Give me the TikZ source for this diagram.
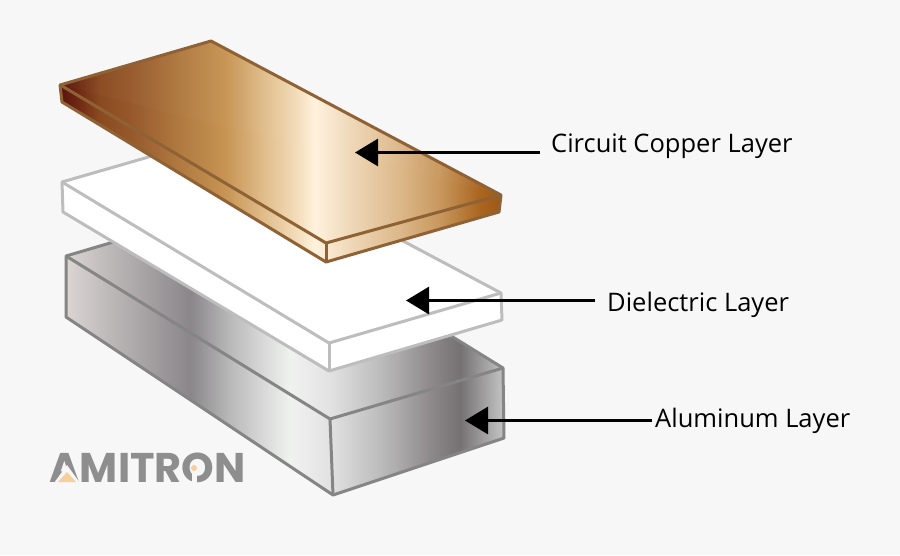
\documentclass[tikz,border=0pt]{standalone}
\usepackage{fontspec}
\setmainfont{Open Sans}
\newfontfamily\logofont{Poppins}[FontFace={b}{n}{Font=Poppins Bold}]
\usetikzlibrary{arrows.meta}
\definecolor{bgc}{HTML}{F7F7F7}
\definecolor{cuedge}{HTML}{8F6236}
\definecolor{dieledge}{HTML}{BDBDBD}
\definecolor{aledge}{HTML}{858585}
\definecolor{logogrey}{HTML}{8E8E8E}
\definecolor{logopeach}{HTML}{F8CE9A}
\definecolor{ca}{HTML}{5A140E}\definecolor{cb}{HTML}{6A2414}\definecolor{cc}{HTML}{8A4A20}
\definecolor{cd}{HTML}{96582B}\definecolor{ce}{HTML}{B07A40}\definecolor{cf}{HTML}{C69453}
\definecolor{cg}{HTML}{DEB986}\definecolor{ch}{HTML}{F5E0BF}\definecolor{ci}{HTML}{FFF2DE}
\definecolor{cj}{HTML}{EFD8B8}\definecolor{ck}{HTML}{DCB88A}\definecolor{cl}{HTML}{C8975D}
\definecolor{cm}{HTML}{AA651F}\definecolor{cn}{HTML}{9E5A14}
\definecolor{aa}{HTML}{DBD6D4}\definecolor{ab}{HTML}{BDB8B8}\definecolor{ac}{HTML}{8A868A}
\definecolor{ad}{HTML}{B9B9B9}\definecolor{ae}{HTML}{F0F2F0}\definecolor{af}{HTML}{E2E2E2}
\definecolor{ag}{HTML}{BDBCBC}\definecolor{ah}{HTML}{858082}\definecolor{ai}{HTML}{767274}
\definecolor{aj}{HTML}{C5C5C5}
\pgfdeclarehorizontalshading{copperfill}{100bp}{
 color(0bp)=(ca);color(25bp)=(ca);color(26.7bp)=(cb);color(29.5bp)=(cc);color(32.9bp)=(cd);
 color(38.6bp)=(ce);color(43.7bp)=(cf);color(47.7bp)=(cg);color(52.2bp)=(ch);color(53.9bp)=(ci);
 color(57.9bp)=(cj);color(63.5bp)=(ck);color(68.1bp)=(cl);color(72.6bp)=(cm);color(75bp)=(cn);color(100bp)=(cn)}
\pgfdeclarehorizontalshading{alufill}{100bp}{
 color(0bp)=(aa);color(25bp)=(aa);color(30bp)=(ab);color(39.2bp)=(ac);color(43.7bp)=(ad);
 color(50.6bp)=(ae);color(55.1bp)=(af);color(60.8bp)=(ag);color(67.7bp)=(ah);color(70bp)=(ai);
 color(75bp)=(aj);color(100bp)=(aj)}
\tikzset{
 culine/.style={draw=cuedge,line width=3pt,line join=round},
 dieline/.style={draw=dieledge,line width=3pt,line join=round},
 alline/.style={draw=aledge,line width=3pt,line join=round},
 lbl/.style={inner sep=0pt,anchor=west,font=\fontsize{25.5}{30}\selectfont,text=black},
 pointer/.style={draw=black,line width=3pt,-{Triangle[length=23pt,width=27pt]}},
}
\begin{document}
\begin{tikzpicture}[x=1pt,y=-1pt]
\useasboundingbox (0,0) rectangle (900,555);
\fill[bgc] (0,0) rectangle (900,555);
% aluminum
\begin{scope}
 \clip (66,256) -- (239,205) -- (503,368) -- (504,438) -- (333,495) -- (66,317) -- cycle;
 \shade[shading=alufill] (66,200) rectangle (504,500);
\end{scope}
\draw[alline] (239,205) -- (66,256) -- (66,317) -- (333,495) -- (504,438) -- (503,368) -- (239,205);
\draw[alline] (66,256) -- (330,419) -- (503,368);
\draw[alline] (330,419) -- (333,495);
% dielectric
\fill[white] (62,182) -- (211,139) -- (501,293) -- (502,320) -- (329,371) -- (63,212) -- cycle;
\draw[dieline] (211,139) -- (62,182) -- (63,212) -- (329,371) -- (502,320) -- (501,293) -- cycle;
\draw[dieline] (62,182) -- (329,343) -- (501,293);
\draw[dieline] (329,343) -- (329,371);
% copper
\begin{scope}
 \clip (60,85) -- (211,41) -- (501,195) -- (499,212) -- (326,262) -- (62,102) -- cycle;
 \shade[shading=copperfill] (60,35) rectangle (501,270);
 \fill[white,opacity=.02] (60,85) -- (211,41) -- (501,195) -- (345,152) -- (230,128) -- cycle;
\end{scope}
\draw[culine] (60,85) -- (211,41) -- (501,195) -- (499,212) -- (326,262) -- (62,102) -- cycle;
\draw[culine] (62,86) -- (326,243) -- (501,195);
\draw[culine] (326,243) -- (326,262);
% logo
\node[inner sep=0pt,anchor=center,text=logogrey,font=\logofont\bfseries\fontsize{41.5}{41.5}\selectfont] (logo) at (147.5,468) {AMITRON};
\fill[bgc] (67,465) -- (80,483) -- (54,483) -- cycle;
\fill[logopeach] (67,472) -- (76,482) -- (58,482) -- cycle;
\fill[bgc] (191.5,474) rectangle (196.5,483);
\fill[logopeach] (194,468) circle (3);
% labels
\node[lbl] (cu) at (551,146) {Circuit Copper Layer};
\node[lbl] (di) at (607,305) {Dielectric Layer};
\node[lbl] (al) at (655,421) {Aluminum Layer};
\coordinate (cutip) at (355,152.5);
\coordinate (ditip) at (406,300.5);
\coordinate (altip) at (465,420.5);
\draw[pointer] ([xshift=-11pt]cu.west |- cutip) -- (cutip);
\draw[pointer] ([xshift=-12pt]di.west |- ditip) -- (ditip);
\draw[pointer] ([xshift=-3pt]al.west |- altip) -- (altip);
\end{tikzpicture}
\end{document}
